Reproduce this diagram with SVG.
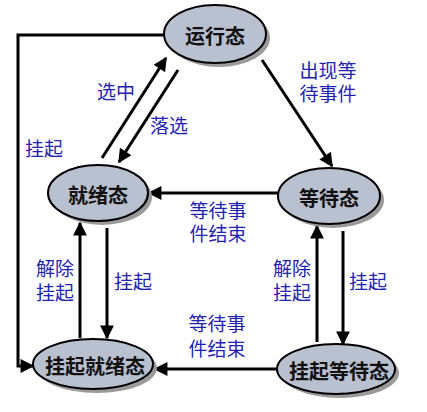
<svg xmlns="http://www.w3.org/2000/svg" width="427" height="412" viewBox="0 0 427 412">
<defs>
<marker id="ah" viewBox="0 0 10 10" refX="9" refY="5" markerWidth="5" markerHeight="4.6" orient="auto" markerUnits="strokeWidth">
<path d="M0,0 L10,5 L0,10 z" fill="#000"/>
</marker>
<style>
.node ellipse.sh{fill:#9a9a9a;stroke:none}
.node ellipse.bd{fill:#b9c0d0;stroke:#000;stroke-width:2}
.node text{font-family:"Noto Sans CJK SC","Liberation Sans",sans-serif;font-weight:bold;font-size:20px;fill:#111;text-anchor:middle;dominant-baseline:central}
.lbl{font-family:"Noto Sans CJK SC","Liberation Sans",sans-serif;font-size:19px;fill:#2222b0;text-anchor:middle}
.edges path,.edges line{stroke:#000;stroke-width:3;fill:none}
</style>
</defs>
<rect width="427" height="412" fill="#fff"/>
<g class="edges">
<line x1="262" y1="60" x2="332" y2="166" marker-end="url(#ah)"/>
<line x1="102" y1="158" x2="166" y2="58" marker-end="url(#ah)"/>
<line x1="178" y1="70" x2="119" y2="162" marker-end="url(#ah)"/>
<line x1="278" y1="193" x2="149" y2="193" marker-end="url(#ah)"/>
<path d="M163,35 H18 V366 H33" marker-end="url(#ah)"/>
<line x1="80" y1="338" x2="80" y2="223" marker-end="url(#ah)"/>
<line x1="107" y1="228" x2="107" y2="338" marker-end="url(#ah)"/>
<line x1="317" y1="342" x2="317" y2="226" marker-end="url(#ah)"/>
<line x1="343" y1="231" x2="343" y2="344" marker-end="url(#ah)"/>
<line x1="278" y1="369" x2="155" y2="369" marker-end="url(#ah)"/>
</g>
<g id="running" class="node">
<ellipse class="sh" cx="219" cy="38" rx="51" ry="29"/>
<ellipse class="bd" cx="215" cy="34" rx="51" ry="29"/>
<text x="215" y="35">运行态</text>
</g>
<g id="ready" class="node">
<ellipse class="sh" cx="102" cy="197" rx="50" ry="28"/>
<ellipse class="bd" cx="98" cy="193" rx="50" ry="28"/>
<text x="98" y="194">就绪态</text>
</g>
<g id="waiting" class="node">
<ellipse class="sh" cx="333" cy="200" rx="51" ry="28"/>
<ellipse class="bd" cx="329" cy="196" rx="51" ry="28"/>
<text x="329" y="197">等待态</text>
</g>
<g id="susp-ready" class="node">
<ellipse class="sh" cx="97" cy="368" rx="60" ry="25"/>
<ellipse class="bd" cx="93" cy="364" rx="60" ry="25"/>
<text x="95" y="365">挂起就绪态</text>
</g>
<g id="susp-waiting" class="node">
<ellipse class="sh" cx="340" cy="373" rx="59" ry="25"/>
<ellipse class="bd" cx="336" cy="369" rx="59" ry="25"/>
<text x="339" y="370">挂起等待态</text>
</g>
<g id="labels">
<text class="lbl" x="116" y="99">选中</text>
<text class="lbl" x="169" y="133">落选</text>
<text class="lbl" x="44" y="156">挂起</text>
<text class="lbl" x="328" y="78">出现等<tspan x="328" dy="23">待事件</tspan></text>
<text class="lbl" x="218" y="218">等待事<tspan x="218" dy="23">件结束</tspan></text>
<text class="lbl" x="55" y="276">解除<tspan x="55" dy="24">挂起</tspan></text>
<text class="lbl" x="133" y="289">挂起</text>
<text class="lbl" x="292" y="276">解除<tspan x="292" dy="24">挂起</tspan></text>
<text class="lbl" x="368" y="289">挂起</text>
<text class="lbl" x="217" y="331">等待事<tspan x="217" dy="25">件结束</tspan></text>
</g>
</svg>
